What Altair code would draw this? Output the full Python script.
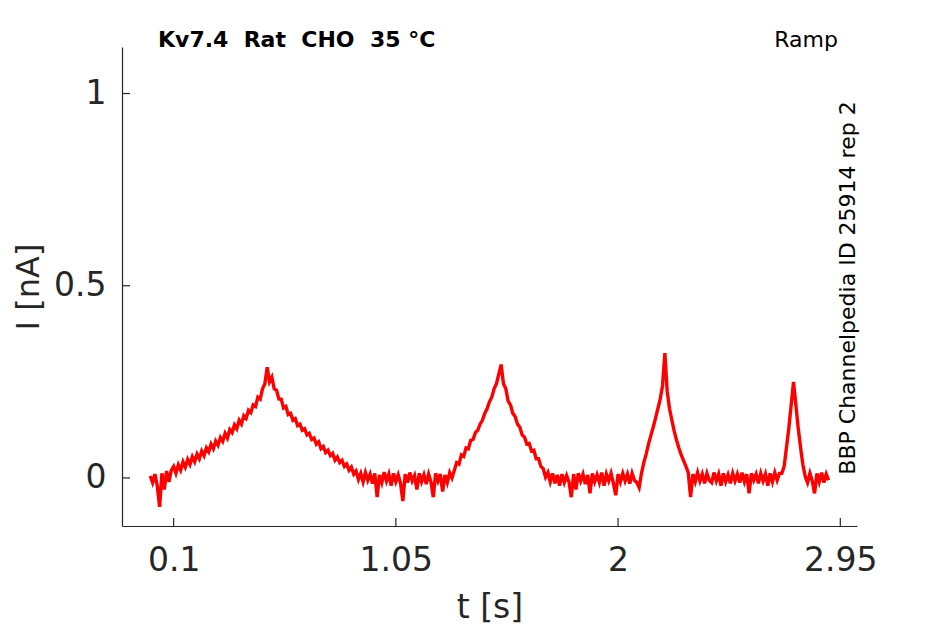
import altair as alt
import numpy as np
import pandas as pd

dt = 0.01
current_nA = [
    # 0.00 - 0.09
    0.005, -0.012, 0.010, -0.020, -0.075, 0.012, -0.030, 0.018, -0.010, 0.020,
    # 0.10 - 0.19
    0.030, 0.012, 0.034, 0.020, 0.042, 0.028, 0.048, 0.035, 0.055, 0.042,
    # 0.20 - 0.29
    0.062, 0.050, 0.070, 0.058, 0.078, 0.068, 0.088, 0.076, 0.096, 0.085,
    # 0.30 - 0.39
    0.105, 0.095, 0.116, 0.104, 0.126, 0.118, 0.138, 0.128, 0.150, 0.140,
    # 0.40 - 0.49
    0.162, 0.155, 0.176, 0.170, 0.190, 0.186, 0.210, 0.205, 0.232, 0.245,
    # 0.50 - 0.59
    0.288, 0.250, 0.262, 0.232, 0.228, 0.205, 0.205, 0.182, 0.186, 0.165,
    # 0.60 - 0.69
    0.168, 0.150, 0.154, 0.136, 0.140, 0.124, 0.128, 0.112, 0.116, 0.100,
    # 0.70 - 0.79
    0.104, 0.088, 0.094, 0.076, 0.082, 0.066, 0.072, 0.058, 0.064, 0.046,
    # 0.80 - 0.89
    0.054, 0.040, 0.046, 0.030, 0.036, 0.020, 0.028, 0.010, 0.018, -0.004,
    # 0.90 - 0.99
    0.012, -0.010, 0.014, -0.006, 0.010, -0.015, 0.012, -0.050, 0.008, -0.012,
    # 1.00 - 1.09
    0.015, -0.008, 0.010, -0.020, 0.012, -0.010, 0.008, -0.014, -0.060, 0.010,
    # 1.10 - 1.19
    -0.012, 0.014, -0.008, 0.006, -0.030, 0.012, -0.010, 0.008, -0.016, 0.010,
    # 1.20 - 1.29
    -0.010, -0.050, 0.012, -0.008, 0.010, -0.035, 0.008, -0.012, 0.014, 0.000,
    # 1.30 - 1.39
    0.020, 0.040, 0.036, 0.060, 0.056, 0.078, 0.076, 0.098, 0.100, 0.118,
    # 1.40 - 1.49
    0.124, 0.140, 0.150, 0.168, 0.180, 0.198, 0.210, 0.232, 0.245, 0.270,
    # 1.50 - 1.59
    0.295, 0.245, 0.232, 0.200, 0.190, 0.168, 0.160, 0.140, 0.132, 0.112,
    # 1.60 - 1.69
    0.106, 0.088, 0.090, 0.070, 0.072, 0.050, 0.050, 0.030, 0.024, 0.002,
    # 1.70 - 1.79
    0.014, -0.010, 0.012, -0.014, 0.008, -0.020, 0.010, -0.012, 0.006, -0.010,
    # 1.80 - 1.89
    -0.050, 0.010, -0.030, 0.012, -0.008, 0.010, -0.016, 0.008, -0.040, 0.012,
    # 1.90 - 1.99
    -0.010, 0.008, -0.012, 0.014, -0.020, 0.010, -0.008, 0.012, -0.014, -0.045,
    # 2.00 - 2.09
    0.010, -0.010, 0.012, -0.008, 0.010, -0.015, 0.012, -0.006, -0.012, -0.025,
    # 2.10 - 2.19
    0.012, 0.040, 0.062, 0.088, 0.110, 0.132, 0.155, 0.180, 0.205, 0.240,
    # 2.20 - 2.29
    0.325, 0.225, 0.180, 0.150, 0.122, 0.098, 0.078, 0.060, 0.045, 0.030,
    # 2.30 - 2.39
    0.014, -0.050, 0.010, -0.010, 0.014, -0.008, 0.010, -0.014, 0.012, -0.006,
    # 2.40 - 2.49
    -0.012, 0.014, -0.008, 0.010, -0.020, 0.012, -0.010, 0.008, -0.014, 0.012,
    # 2.50 - 2.59
    -0.008, 0.010, -0.012, 0.014, -0.010, 0.010, -0.040, 0.012, -0.006, 0.010,
    # 2.60 - 2.69
    -0.014, 0.012, -0.008, 0.010, -0.020, 0.012, -0.010, 0.014, -0.006, 0.012,
    # 2.70 - 2.79
    0.012, 0.030, 0.080, 0.130, 0.190, 0.250, 0.190, 0.130, 0.080, 0.035,
    # 2.80 - 2.90
    0.004, -0.012, 0.012, -0.008, -0.040, 0.012, -0.010, 0.014, -0.012, 0.010,
    -0.006,
]
time_s = np.round(np.arange(len(current_nA)) * dt, 2)

x_ticks = [0.1, 1.05, 2, 2.95]
y_ticks = [0, 0.5, 1]
x_domain = [-0.1207, 3.0214]
y_domain = [-0.125, 1.121]

NB = "\u00a0"
title_text = f"Kv7.4{NB} Rat{NB} CHO{NB} 35 °C"
protocol_text = "Ramp"
source_text = "BBP Channelpedia ID 25914 rep 2"

# ---- chart
W, H = 735, 479
FONT = "DejaVu Sans"
INK = "#262626"

trace = pd.DataFrame({"t": time_s, "I": current_nA})
xt = pd.DataFrame({"t": x_ticks})
yt = pd.DataFrame({"I": y_ticks})

xs = alt.Scale(domain=x_domain, nice=False, zero=False)
ys = alt.Scale(domain=y_domain, nice=False, zero=False)

LBL = "format(datum.value, '.3~g')"
xaxis = alt.Axis(values=x_ticks, labelExpr=LBL, title="t [s]", grid=False, ticks=False,
                 labelPadding=18, labelFontSize=33, titleFontSize=33,
                 titleY=91, titleBaseline="alphabetic")
yaxis = alt.Axis(values=y_ticks, labelExpr=LBL, title="I [nA]", grid=False, ticks=False,
                 labelPadding=16, labelFontSize=33, titleFontSize=32,
                 titleX=-84, titleBaseline="alphabetic")

X = alt.X("t:Q", scale=xs, axis=xaxis)
Y = alt.Y("I:Q", scale=ys, axis=yaxis)

line = alt.Chart(trace).mark_line(color="#ff0000", strokeWidth=3.4, strokeJoin="miter",
                                  clip=True).encode(x=X, y=Y)

xtick_marks = alt.Chart(xt).mark_rule(color=INK, strokeWidth=1.2).encode(
    x=X, y=alt.value(H), y2=alt.value(H - 8))
ytick_marks = alt.Chart(yt).mark_rule(color=INK, strokeWidth=1.2).encode(
    y=Y, x=alt.value(0), x2=alt.value(8))

title_mark = alt.Chart(pd.DataFrame({"s": [title_text]})).mark_text(
    font=FONT, fontSize=22, fontWeight="bold", color="#000000", align="left", baseline="alphabetic"
).encode(text="s:N", x=alt.value(36), y=alt.value(0))

protocol_mark = alt.Chart(pd.DataFrame({"s": [protocol_text]})).mark_text(
    font=FONT, fontSize=22, color="#000000", align="right", baseline="alphabetic"
).encode(text="s:N", x=alt.value(716), y=alt.value(0))

source_mark = alt.Chart(pd.DataFrame({"s": [source_text]})).mark_text(
    font=FONT, fontSize=22, color="#000000", align="center", baseline="alphabetic", angle=270
).encode(text="s:N", x=alt.value(733), y=alt.value(241))

chart = alt.layer(line, xtick_marks, ytick_marks, title_mark, protocol_mark, source_mark).properties(
    width=W, height=H,
    autosize=alt.AutoSizeParams(type="none"),
    padding={"left": 114, "top": 39, "right": 80, "bottom": 98},
).configure_view(stroke=None).configure_axis(
    labelFont=FONT, titleFont=FONT, labelColor=INK, titleColor=INK,
    domainColor=INK, domainWidth=1.2, titleFontWeight="normal",
)

chart.save("out.html", embed_options={"renderer": "svg", "actions": False})
